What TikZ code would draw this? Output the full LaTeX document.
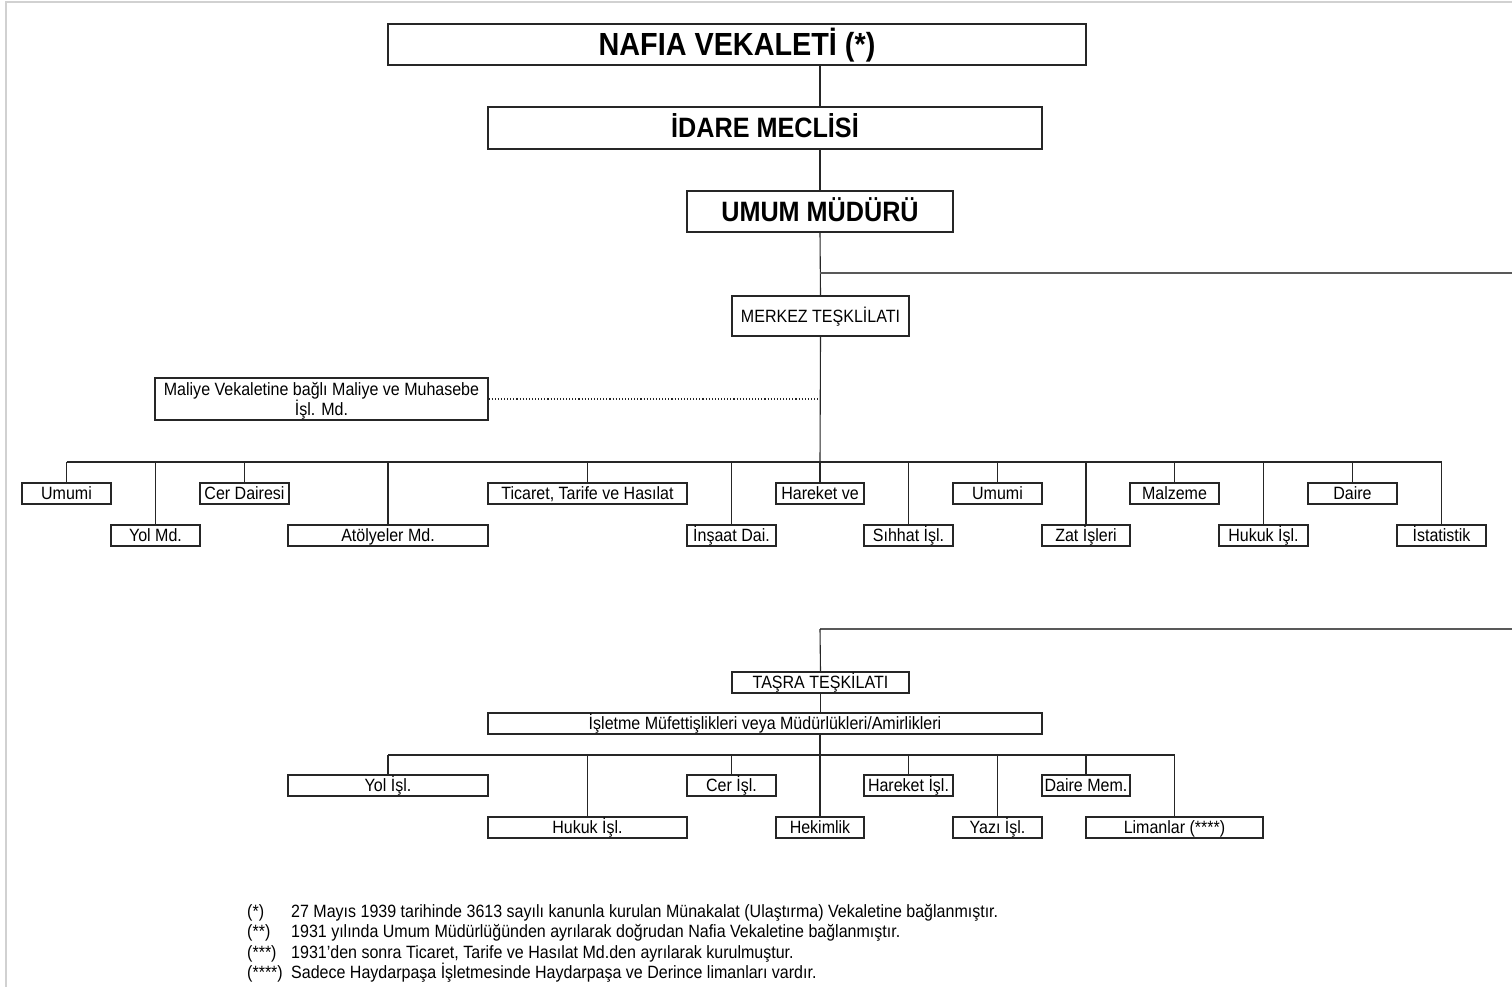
\documentclass[tikz,border=0pt]{standalone}
\usepackage{fontspec}
\setmainfont[FakeStretch=0.9]{Liberation Sans}
\newcommand{\orgbox}[7][]{\node[box,minimum width={#5-#3},minimum height={#6-#4},#1] (#2) at ({(#3+#5)/2},{(#4+#6)/2}) {#7};}
\begin{document}
\begin{tikzpicture}[x=1pt,y=-1pt,
  box/.style={draw=black!85, line width=1.1pt, rectangle, inner sep=0pt, align=center, font=\fontsize{17.8}{20.5}\selectfont, text height=12.7pt, text depth=0pt},
  titlebox/.style={font=\bfseries\fontsize{32}{36}\selectfont, text height=22.9pt},
  subtitlebox/.style={font=\bfseries\fontsize{28}{32}\selectfont, text height=20pt},
  twoline/.style={text height=33.2pt, text depth=0pt},
  conn/.style={draw=black!85, line width=1.1pt},
  rule/.style={draw=black!65, line width=1.8pt},
  frameline/.style={draw=black!18, line width=1.2pt},
  note/.style={anchor=base west, inner sep=0pt, font=\fontsize{17.8}{20.5}\selectfont}]
\useasboundingbox (0,0) rectangle (1512,987);
\fill[white] (0,0) rectangle (1512,987);
\draw[frameline] (6,987) -- (6,2) -- (1512,2);
% top chain
\orgbox[titlebox]{nafia}{388}{24}{1086}{65}{NAFIA VEKALETİ (*)}
\orgbox[subtitlebox]{idare}{488}{107}{1042}{149}{İDARE MECLİSİ}
\orgbox[subtitlebox]{umum}{687}{191}{953}{232}{UMUM MÜDÜRÜ}
\orgbox{merkez}{732}{296}{909}{336}{MERKEZ TEŞKLİLATI}
\orgbox[twoline]{maliye}{155}{378}{488}{420}{Maliye Vekaletine bağlı Maliye ve Muhasebe\\İşl. Md.}
\draw[conn] (nafia.south -| umum.south) -- (idare.north -| umum.south);
\draw[conn] (idare.south -| umum.south) -- (umum.north);
\draw[conn] (umum.south) -- (merkez.north);
\coordinate (r1a) at (820,273);
\coordinate (r1) at (1512,273);
\draw[rule] (r1a) -- (r1);
% row 1
\orgbox{ua}{22}{483}{111}{504}{Umumi}
\orgbox{cer}{200}{483}{289}{504}{Cer Dairesi}
\orgbox{tic}{488}{483}{687}{504}{Ticaret, Tarife ve Hasılat}
\orgbox{har}{776}{483}{864}{504}{Hareket ve}
\orgbox{ub}{953}{483}{1042}{504}{Umumi}
\orgbox{malz}{1130}{483}{1219}{504}{Malzeme}
\orgbox{daire}{1308}{483}{1397}{504}{Daire}
% row 2
\orgbox{yol}{111}{525}{200}{546}{Yol Md.}
\orgbox{atol}{288}{525}{488}{546}{Atölyeler Md.}
\orgbox{insaat}{687}{525}{776}{546}{İnşaat Dai.}
\orgbox{sihhat}{864}{525}{953}{546}{Sıhhat İşl.}
\orgbox{zat}{1042}{525}{1130}{546}{Zat İşleri}
\orgbox{hukuk}{1219}{525}{1308}{546}{Hukuk İşl.}
\orgbox{ist}{1397}{525}{1486}{546}{İstatistik}
\coordinate (bus1) at (820,462);
\draw[conn] (merkez.south) -- (bus1);
\draw[conn, dotted] (maliye.east) -- (maliye.east -| merkez.south);
\draw[conn] (ua.north |- bus1) -- (ist.north |- bus1);
\foreach \c in {ua,cer,tic,har,ub,malz,daire,yol,atol,insaat,sihhat,zat,hukuk,ist}
  \draw[conn] (\c.north) -- (\c.north |- bus1);
% tasra
\coordinate (t0) at (820,629);
\coordinate (r2) at (1512,629);
\draw[rule] (t0) -- (r2);
\orgbox{tasra}{732}{672}{909}{693}{TAŞRA TEŞKİLATI}
\orgbox{isletme}{488}{713}{1042}{734}{İşletme Müfettişlikleri veya Müdürlükleri/Amirlikleri}
\draw[conn] (t0) -- (tasra.north);
\draw[conn] (tasra.south) -- (tasra.south |- isletme.north);
% row 3
\orgbox{yolisl}{288}{775}{488}{796}{Yol İşl.}
\orgbox{cerisl}{687}{775}{776}{796}{Cer İşl.}
\orgbox{harisl}{864}{775}{953}{796}{Hareket İşl.}
\orgbox{dairemem}{1042}{775}{1130}{796}{Daire Mem.}
% row 4
\orgbox{hukisl}{488}{817}{687}{838}{Hukuk İşl.}
\orgbox{hekim}{776}{817}{864}{838}{Hekimlik}
\orgbox{yazi}{953}{817}{1042}{838}{Yazı İşl.}
\orgbox{liman}{1086}{817}{1263}{838}{Limanlar (****)}
\coordinate (bus2) at (820,755);
\draw[conn] (isletme.south -| hekim.north) -- (hekim.north);
\draw[conn] (yolisl.north |- bus2) -- (liman.north |- bus2);
\foreach \c in {yolisl,cerisl,harisl,dairemem,hukisl,yazi,liman}
  \draw[conn] (\c.north) -- (\c.north |- bus2);
% footnotes
\node[note] (m1) at (247,917) {(*)};
\node[note] (n1) at (291,917) {27 Mayıs 1939 tarihinde 3613 sayılı kanunla kurulan Münakalat (Ulaştırma) Vekaletine bağlanmıştır.};
\node[note] (m2) at (247,937.5) {(**)};
\node[note] (n2) at (291,937.5) {1931 yılında Umum Müdürlüğünden ayrılarak doğrudan Nafia Vekaletine bağlanmıştır.};
\node[note] (m3) at (247,958) {(***)};
\node[note] (n3) at (291,958) {1931'den sonra Ticaret, Tarife ve Hasılat Md.den ayrılarak kurulmuştur.};
\node[note] (m4) at (247,978.5) {(****)};
\node[note] (n4) at (291,978.5) {Sadece Haydarpaşa İşletmesinde Haydarpaşa ve Derince limanları vardır.};
\end{tikzpicture}
\end{document}
